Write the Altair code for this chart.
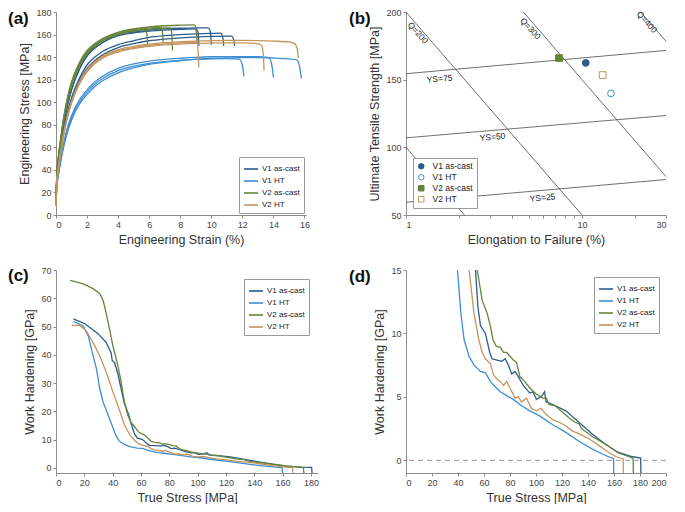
import altair as alt
import pandas as pd

FONT = "Liberation Sans"
COND = ["V1 as-cast", "V1 HT", "V2 as-cast", "V2 HT"]
COLORS = ["#2B5C8C", "#3E8ED4", "#668538", "#C4955E"]

# ---------------- panel (a): engineering stress-strain ----------------
GRID = [0, 0.05, 0.15, 0.3, 0.5, 0.75, 1, 1.5, 2, 2.5, 3, 4, 5, 6, 7, 8, 9, 10, 11, 12, 13, 14, 15]
A_CURVES = [
    ("V1 as-cast", [9, 33, 48, 63, 81, 98, 111, 129, 141, 148, 153, 159, 161.5, 163, 164, 164.6, 165],
     [9.15, 9.2], [162, 150]),
    ("V1 as-cast", [9, 33, 48, 63, 81, 98, 111, 129, 141, 148, 153, 159.5, 162.2, 164, 165, 165.6, 165.9],
     [9.8, 9.95, 10.0], [166, 162, 151]),
    ("V1 as-cast", [9, 31, 45, 59, 76, 92, 104, 121, 133, 140, 145, 151, 154.5, 157.5, 159, 160, 160.6, 161],
     [10.6, 10.75, 10.8], [161.2, 157, 150]),
    ("V1 as-cast", [9, 30, 44, 58, 74, 90, 102, 119, 130, 137, 142, 148.5, 152, 154.5, 156, 157, 157.8, 158.3, 158.6],
     [11.3, 11.45, 11.5], [158.6, 155, 150]),
    ("V1 HT", [9, 25, 36, 48, 62, 76, 86, 100, 109, 116, 121, 128, 132, 134.5, 136, 137, 138, 138.5, 138.7],
     [11.8, 12.0, 12.1], [138.2, 133, 123]),
    ("V1 HT", [9, 26, 37, 50, 64, 78, 88, 102, 111, 118, 123, 130, 134, 136.5, 138, 139, 139.8, 140.3, 140.5, 140.5, 140.3],
     [13.7, 13.9, 14.0], [139.5, 133, 122]),
    ("V1 HT", [9, 24, 35, 47, 61, 74, 84, 98, 107, 114, 119, 126, 130.5, 133.5, 135.5, 137, 138, 138.8, 139.3, 139.5, 139.5, 139.2, 138.4],
     [15.5, 15.7, 15.8], [137.5, 131, 121]),
    ("V2 as-cast", [8, 34, 50, 66, 85, 103, 116, 133, 144, 150, 155, 160.5, 163.5],
     [5.7, 5.85, 5.9], [164.5, 161, 149]),
    ("V2 as-cast", [8, 34, 50, 66, 86, 104, 117, 134, 145, 151, 156, 161.5, 164.3, 165.8],
     [6.75, 6.85, 6.9], [166.3, 163, 153]),
    ("V2 as-cast", [8, 33, 49, 65, 84, 102, 115, 132, 143, 149.5, 154.5, 160, 163, 164.8, 165.8],
     [7.35, 7.45, 7.5], [166, 162, 146]),
    ("V2 as-cast", [8, 35, 51, 68, 87, 105, 118, 135, 146, 152, 156.5, 162, 165, 166.8, 167.8, 168.3],
     [8.9, 9.0, 9.1], [168.6, 166, 152]),
    ("V2 HT", [8, 28, 41, 55, 72, 88, 100, 117, 128, 135, 140, 145.5, 148.5, 150.5, 151.8, 152.6, 153],
     [9.1, 9.15, 9.2], [152.5, 145, 131]),
    ("V2 HT", [8, 27, 40, 54, 71, 87, 99, 116, 127, 134, 139, 144.5, 147.5, 149.5, 150.8, 151.6, 152.2, 152.5, 152.7, 152.6, 152],
     [13.25, 13.35, 13.4], [150, 142, 128]),
    ("V2 HT", [8, 28, 42, 56, 73, 89, 101, 118, 129, 136, 141, 146.5, 149.5, 151.5, 152.8, 153.6, 154.2, 154.6, 154.8, 154.8, 154.6, 154.2, 153.5],
     [15.4, 15.55, 15.6], [151.5, 146, 139]),
]

# ---------------- panel (b): quality chart ----------------
B_ELONG = [10.5, 14.6, 7.4, 13.1]
B_UTS = [162.4, 139.8, 166.0, 153.4]
B_SHAPES = ["circle", "circle", "square", "square"]
B_FILLS = ["#2B5C8C", "white", "#668538", "white"]

REF_LINES = {
    "Q=100": ([1, 2.15], [100, 50]),
    "Q=200": ([1, 10], [200, 50]),
    "Q=300": ([4.64, 30], [200, 78.4]),
    "Q=400": ([21.5, 30], [200, 178.4]),
    "YS=75": ([1, 30], [154.4, 171.6]),
    "YS=50": ([1, 30], [107.0, 123.5]),
    "YS=25": ([1, 30], [59.4, 76.2]),
}
Q_LABELS = ["Q=200", "Q=300", "Q=400"]
Q_LX = [1.17, 5.1, 23.4]
Q_LY = [184.7, 187.8, 192.7]
YS_LABELS = ["YS=75", "YS=50", "YS=25"]
YS_LX = [1.55, 3.1, 5.96]
YS_LY = [150.7, 107.8, 62.9]

# ---------------- panels (c)/(d): work hardening ----------------
WH = {
    "V1 as-cast": (
        [12.3, 20.4, 29.7, 35.5, 39.0, 39.7, 41.3, 43.7, 46.0, 48.3, 51.3, 53.5, 55.3, 57.3, 61.1, 64.4, 66.2, 70,
         73.7, 76.3, 78.8, 81.3, 83.8, 86.4, 90.2, 95.2, 97.7, 100.3, 104, 106.6, 107.8, 112.9, 123, 133, 143, 153,
         163, 173.5, 180.5, 181],
        [52.7, 51.0, 47.5, 44.3, 40.6, 37.9, 37.3, 33.3, 28, 22.8, 18.8, 15, 12.1, 10.6, 10.0, 8.5, 8.0, 7.9,
         7.8, 8.0, 7.5, 6.8, 7.0, 6.6, 5.9, 5.3, 5.4, 4.8, 5.0, 5.4, 4.6, 4.4, 3.9, 3.0, 2.1, 1.3,
         0.64, 0.3, 0.18, -3]),
    "V1 HT": (
        [12.3, 19.3, 22.8, 26.2, 28.6, 30.9, 33.2, 36.7, 39.6, 42.2, 44.7, 48.5, 52.3, 57.3, 61.1, 65, 68.7, 72.5,
         77.5, 82.6, 87.6, 95.2, 102.8, 112.9, 123, 133, 143, 153, 159.6, 160.2],
        [51.8, 50.1, 46.6, 39.6, 35, 28, 23.4, 18.8, 15, 11.6, 9.5, 8.2, 7.5, 7.0, 6.9, 6.2, 5.8, 5.4,
         5.1, 4.8, 4.4, 3.9, 3.5, 2.8, 2.2, 1.5, 0.9, 0.4, 0.13, -3]),
    "V2 as-cast": (
        [10, 19.3, 26.2, 30.9, 33.2, 34.4, 37.9, 40.2, 43.7, 46, 48.3, 50.6, 53, 54.8, 58.6, 62.4, 64.9, 66.9, 69.4,
         72.5, 75, 77.5, 80, 82.6, 85, 87.6, 91.4, 95.2, 100.3, 105.3, 108, 110, 115, 118, 125, 130, 133, 135, 143,
         153, 163, 172, 174.7, 175.2],
        [66.3, 65.1, 63.4, 61.6, 59.3, 57, 48.9, 43.1, 36.2, 30.4, 23.4, 18.8, 16, 15, 12.6, 11.6, 10.6, 9.5, 9.0,
         8.9, 8.5, 8.5, 8.2, 7.9, 7.7, 6.6, 6.2, 5.7, 5.2, 4.9, 4.9, 4.4, 4.3, 4.0, 3.4, 3.0, 2.9, 2.5, 1.9,
         1.3, 0.6, 0.26, 0.13, -3]),
    "V2 HT": (
        [11.1, 17, 21.6, 26.2, 30.9, 35.5, 40.2, 44.8, 48.5, 52.3, 56, 58.6, 61, 65, 67.4, 70, 72.5, 75, 77.5, 80,
         83.8, 86.4, 88.9, 92.7, 96.5, 100.3, 104, 107.8, 112.9, 117.9, 123, 128, 133, 140.7, 148, 155.8, 162, 167,
         167.6],
        [50.4, 50.4, 48.3, 44.3, 39.6, 33.8, 26.9, 20.5, 15, 11.6, 9.5, 8.5, 8.0, 7.6, 6.7, 6.4, 6.2, 5.9, 6.2, 5.7,
         4.9, 5.0, 4.6, 4.9, 4.1, 3.9, 4.1, 3.6, 3.2, 3.0, 2.7, 2.3, 2.1, 1.7, 1.2, 0.64, 0.26, 0.13, -3]),
}

# ---------------- build tables ----------------
rows = []
for k, (cond, body, tx, ty) in enumerate(A_CURVES):
    xs = GRID[:len(body)] + tx
    ys = body + ty
    for i, (x, y) in enumerate(zip(xs, ys)):
        rows.append({"strain": x, "stress": y, "cond": cond, "curve": k, "i": i})
df_a = pd.DataFrame(rows)

df_b = pd.DataFrame({"cond": COND, "elong": B_ELONG, "uts": B_UTS})
rows = []
for name, (xs, ys) in REF_LINES.items():
    for i, (x, y) in enumerate(zip(xs, ys)):
        rows.append({"elong": x, "uts": y, "lid": name, "i": i})
df_ref = pd.DataFrame(rows)
df_q = pd.DataFrame({"t": Q_LABELS, "elong": Q_LX, "uts": Q_LY})
df_ys = pd.DataFrame({"t": YS_LABELS, "elong": YS_LX, "uts": YS_LY})

rows = []
for cond in COND:
    xs, ys = WH[cond]
    for i, (x, y) in enumerate(zip(xs, ys)):
        rows.append({"ts": x, "wh": y, "cond": cond, "i": i})
df_wh = pd.DataFrame(rows)

color_scale = alt.Scale(domain=COND, range=COLORS)


def line_legend(orient, offset):
    return alt.Legend(title=None, orient=orient, offset=offset, strokeColor="#9a9a9a", fillColor="white",
                      padding=4, symbolType="stroke", symbolSize=200, symbolStrokeWidth=1.6,
                      labelFontSize=8, labelFont=FONT, labelColor="#222", rowPadding=0, labelOffset=3)


def panel_label(txt, dx, dy):
    return alt.Chart(pd.DataFrame({"t": [txt]})).mark_text(
        font=FONT, fontSize=17, fontWeight="bold", align="left", baseline="middle", color="#111"
    ).encode(text="t:N", x=alt.value(dx), y=alt.value(dy))


H = 203

# (a)
a_lines = alt.Chart(df_a).mark_line(strokeWidth=1.3, interpolate="monotone").encode(
    x=alt.X("strain:Q", scale=alt.Scale(domain=[0, 16.1], nice=False),
            axis=alt.Axis(values=list(range(0, 17, 2)), title="Engineering Strain (%)")),
    y=alt.Y("stress:Q", scale=alt.Scale(domain=[0, 180], nice=False),
            axis=alt.Axis(values=list(range(0, 181, 20)), title="Engineering Stress [MPa]")),
    color=alt.Color("cond:N", scale=color_scale, legend=line_legend("bottom-right", 2)),
    detail="curve:N",
    order="i:Q",
)
chart_a = alt.layer(a_lines, panel_label("(a)", -48, 7)).properties(width=250, height=H)

# (b)
xb = alt.X("elong:Q", scale=alt.Scale(type="log", domain=[1, 30], nice=False),
           axis=alt.Axis(values=[1, 2, 3, 4, 5, 6, 7, 8, 9, 10, 20, 30], labelOverlap=False,
                         labelExpr="(datum.value==1||datum.value==10||datum.value==30) ? datum.label : ''",
                         title="Elongation to Failure (%)"))
yb = alt.Y("uts:Q", scale=alt.Scale(domain=[50, 200], nice=False),
           axis=alt.Axis(values=[50, 100, 150, 200], title="Ultimate Tensile Strength [MPa]"))
b_ref = alt.Chart(df_ref).mark_line(color="#4a4a4a", strokeWidth=0.8).encode(
    x=xb, y=yb, detail="lid:N", order="i:Q")
b_q = alt.Chart(df_q).mark_text(font=FONT, fontSize=8.5, angle=48, color="#222").encode(
    x=xb, y=yb, text="t:N")
b_ys = alt.Chart(df_ys).mark_text(font=FONT, fontSize=8.5, angle=355, color="#222").encode(
    x=xb, y=yb, text="t:N")
b_leg = alt.Legend(title=None, orient="bottom-left", offset=7, strokeColor="#9a9a9a", fillColor="white",
                   padding=4, symbolSize=30, symbolStrokeWidth=1, labelFontSize=8.5, labelFont=FONT,
                   labelColor="#222", rowPadding=1, labelOffset=7)
b_pts = alt.Chart(df_b).mark_point(size=45, strokeWidth=1, opacity=1, fillOpacity=1).encode(
    x=xb, y=yb,
    stroke=alt.Stroke("cond:N", scale=alt.Scale(domain=COND, range=COLORS), legend=b_leg),
    fill=alt.Fill("cond:N", scale=alt.Scale(domain=COND, range=B_FILLS), legend=b_leg),
    shape=alt.Shape("cond:N", scale=alt.Scale(domain=COND, range=B_SHAPES), legend=b_leg),
)
chart_b = alt.layer(b_ref, b_q, b_ys, b_pts, panel_label("(b)", -57, 7)).properties(width=260, height=H)

# (c)
c_lines = alt.Chart(df_wh).mark_line(strokeWidth=1.3, clip=True).encode(
    x=alt.X("ts:Q", scale=alt.Scale(domain=[0, 185], nice=False),
            axis=alt.Axis(values=list(range(0, 181, 20)), title="True Stress [MPa]")),
    y=alt.Y("wh:Q", scale=alt.Scale(domain=[-1.8, 70], nice=False),
            axis=alt.Axis(values=list(range(0, 71, 10)), title="Work Hardening [GPa]")),
    color=alt.Color("cond:N", scale=color_scale, legend=line_legend("top-right", 9)),
    order="i:Q",
)
chart_c = alt.layer(c_lines, panel_label("(c)", -48, 6)).properties(width=262, height=H)

# (d)
d_rule = alt.Chart(pd.DataFrame({"z": [0]})).mark_rule(color="#999999", strokeDash=[5, 4], strokeWidth=1).encode(
    y=alt.datum(0))
d_lines = alt.Chart(df_wh).mark_line(strokeWidth=1.3, clip=True).encode(
    x=alt.X("ts:Q", scale=alt.Scale(domain=[0, 200], nice=False),
            axis=alt.Axis(values=list(range(0, 201, 20)), title="True Stress [MPa]")),
    y=alt.Y("wh:Q", scale=alt.Scale(domain=[-1, 15], nice=False),
            axis=alt.Axis(values=[0, 5, 10, 15], title="Work Hardening [GPa]")),
    color=alt.Color("cond:N", scale=color_scale, legend=line_legend("top-right", 7)),
    order="i:Q",
)
chart_d = alt.layer(d_rule, d_lines, panel_label("(d)", -57, 7)).properties(width=260, height=H)

chart = alt.concat(chart_a, chart_b, chart_c, chart_d, columns=2,
                   spacing={"row": 20, "column": 30}).resolve_scale(
    color="independent", x="independent", y="independent",
    stroke="independent", fill="independent", shape="independent"
).properties(
    padding={"left": 0, "top": 0, "right": 0, "bottom": 0}
).configure_view(stroke=None).configure_axis(
    grid=False, domainColor="#8c8c8c", tickColor="#8c8c8c", tickSize=3, labelPadding=2,
    labelColor="#444", titleColor="#333", labelFont=FONT, titleFont=FONT,
    labelFontSize=9, titleFontSize=12.5, titleFontWeight="normal", titlePadding=4
)

chart.save("out.html", embed_options={"renderer": "svg", "actions": False})
